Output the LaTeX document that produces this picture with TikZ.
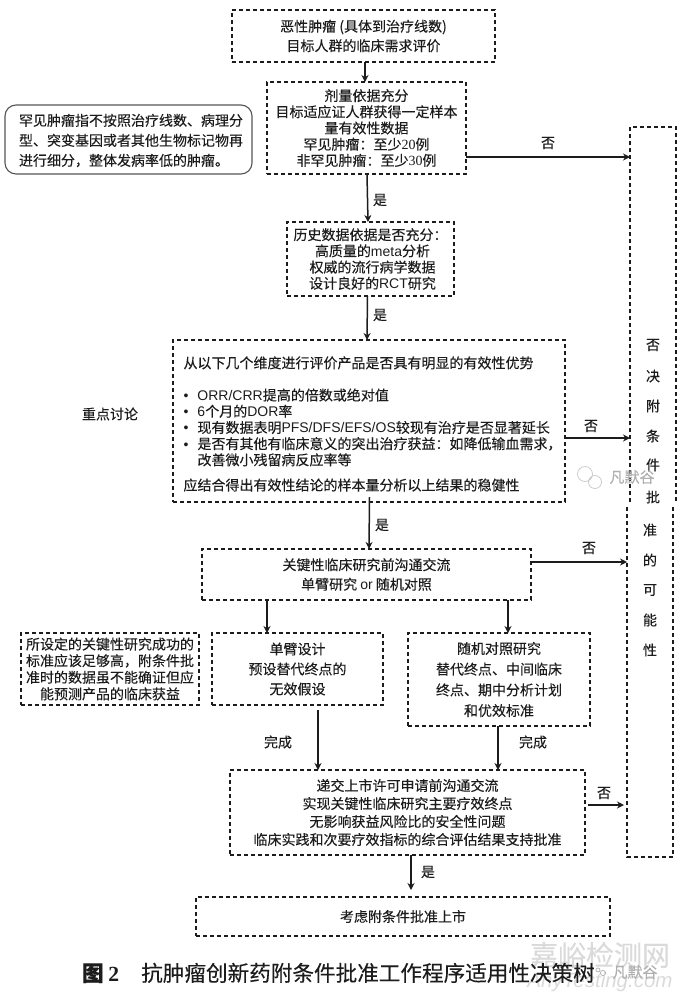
\documentclass[tikz,border=0pt]{standalone}
\usepackage{fontspec}
\usetikzlibrary{arrows.meta}
\setmainfont[FakeBold=0.2]{Noto Sans CJK SC}
\newfontfamily\lat{Liberation Sans}
\newfontfamily\ser{Liberation Serif}
\definecolor{ink}{HTML}{1C1C1C}
\definecolor{wm}{HTML}{DADADA}
\definecolor{wmb}{HTML}{AFAFAF}
\tikzset{
  base/.style={inner sep=0pt,outer sep=0pt,text=ink,font=\fontsize{14}{16.2}\selectfont},
  dbox/.style={base,draw=ink,line width=1.2pt,dash pattern=on 4pt off 3pt,align=center,anchor=north west},
  note/.style={base,draw=ink!75,line width=1.1pt,rounded corners=11pt,align=left,anchor=north west},
  hold/.style={base,anchor=north west},
  side/.style={draw=ink,line width=1.2pt,dash pattern=on 4pt off 3pt},
  arr/.style={draw=ink,line width=1.5pt,-{Stealth[length=7pt,width=7pt]}},
  lab/.style={base,anchor=center},
  vert/.style={base,anchor=center},
}
\begin{document}
\begin{tikzpicture}[x=1pt,y=-1pt]
\useasboundingbox (0,0) rectangle (680,999);
% boxes
\node[dbox,minimum width=263pt,minimum height=52pt,font=\fontsize{14}{19.5}\selectfont] (top) at (232,10)
  {恶性肿瘤 (具体到治疗线数)\\目标人群的临床需求评价};
\node[dbox,minimum width=199pt,minimum height=92pt] (dose) at (267,82)
  {剂量依据充分\\目标适应证人群获得一定样本\\量有效性数据\\罕见肿瘤：至少{\ser 20}例\\非罕见肿瘤：至少{\ser 30}例};
\node[note,minimum width=247pt,minimum height=69pt,font=\fontsize{14}{20}\selectfont] (rare) at (5,105)
  {\hspace{7pt}\raisebox{-1pt}[\height][\depth]{\parbox{226pt}{罕见肿瘤指不按照治疗线数、病理分\\型、突变基因或者其他生物标记物再\\进行细分，整体发病率低的肿瘤。}}};
\node[dbox,minimum width=167pt,minimum height=74pt] (hist) at (287,222)
  {历史数据依据是否充分：\\\hspace{4pt}高质量的{\lat meta}分析\\\hspace{4pt}权威的流行病学数据\\\hspace{4pt}设计良好的{\lat RCT}研究};
\node[dbox,minimum width=392pt,minimum height=162pt,align=left] (eval) at (173,340)
  {\hspace{8pt}\raisebox{-3pt}[\height][\depth]{\parbox{379pt}{从以下几个维度进行评价产品是否具有明显的有效性优势\\[16pt]
  \makebox[14pt][l]{\lat •}{\lat ORR/CRR}提高的倍数或绝对值\\
  \makebox[14pt][l]{\lat •}{\lat 6}个月的{\lat DOR}率\\
  \makebox[14pt][l]{\lat •}现有数据表明{\lat PFS/DFS/EFS/OS}较现有治疗是否显著延长\\
  \makebox[14pt][l]{\lat •}是否有其他有临床意义的突出治疗获益：如降低输血需求，\\
  \makebox[14pt][l]{}改善微小残留病反应率等\\[9pt]
  应结合得出有效性结论的样本量分析以上结果的稳健性}}};
\node[dbox,minimum width=329pt,minimum height=51pt,font=\fontsize{14}{19.5}\selectfont] (pre) at (202,549)
  {关键性临床研究前沟通交流\\单臂研究 {\lat or} 随机对照};
\node[dbox,minimum width=178pt,minimum height=72pt,font=\fontsize{14}{16.6}\selectfont] (crit) at (21,633)
  {所设定的关键性研究成功的\\标准应该足够高，附条件批\\准时的数据虽不能确证但应\\能预测产品的临床获益};
\node[dbox,minimum width=171pt,minimum height=72pt,font=\fontsize{14}{20}\selectfont] (single) at (212,633)
  {单臂设计\\预设替代终点的\\无效假设};
\node[dbox,minimum width=182pt,minimum height=93pt,font=\fontsize{14}{20.7}\selectfont] (rand) at (408,633)
  {随机对照研究\\替代终点、中间临床\\终点、期中分析计划\\和优效标准};
\node[dbox,minimum width=355pt,minimum height=85pt,font=\fontsize{14}{18}\selectfont] (nda) at (230,770)
  {递交上市许可申请前沟通交流\\实现关键性临床研究主要疗效终点\\无影响获益风险比的安全性问题\\临床实践和次要疗效指标的综合评估结果支持批准};
\node[dbox,minimum width=414pt,minimum height=39pt,line width=1.6pt] (final) at (196,897)
  {考虑附条件批准上市};
% right-hand box, in two offset halves
\node[hold,minimum width=46pt,minimum height=375pt] (ra) at (630,127) {};
\node[hold,minimum width=46pt,minimum height=350pt] (rb) at (627,507) {};
\draw[side] (ra.south west) -- (ra.north west) -- (ra.north east) -- (ra.south east);
\draw[side] (rb.north west) -- (rb.south west) -- (rb.south east) -- (rb.north east);
\foreach \n/\t/\px/\py in {v1/否/653/345,v2/决/653/376,v3/附/653/406,v4/条/653/436,v5/件/653/465,v6/批/653/497,v7/准/650/530,v8/的/650/560,v9/可/650/590,v10/能/650/620,v11/性/650/650}
  \node[vert] (\n) at (\px,\py) {\t};
% connectors
\draw[arr] (top.south -| dose.north) ++(-1.5,0) -- +(0,20) coordinate (c1);
\draw[arr] ([xshift=.5pt]dose.south) -- ([xshift=-2.5pt]hist.north);
\draw[arr] ([xshift=-3pt]hist.south) -- ([xshift=-2pt]eval.north);
\draw[arr] ([xshift=.5pt,yshift=5pt]eval.south) -- ([xshift=2.5pt]pre.north);
\draw[arr] (pre.south -| single.north) ++(-30.5,0) -- +(0,33) coordinate (c2);
\draw[arr] (pre.south -| rand.north) ++(9,0) -- +(0,33) coordinate (c3);
\draw[arr] (single.south) ++(20.5,5) -- +(0,60) coordinate (c4);
\draw[arr] (rand.south) ++(-1,0) -- +(0,44) coordinate (c5);
\draw[arr] (nda.south) ++(3.5,0) -- +(0,35) coordinate (c6);
\draw[arr] (dose.east |- 0,157) -- (ra.west |- 0,157);
\draw[arr] (eval.east |- 0,438) -- (ra.west |- 0,438);
\draw[arr] (pre.east |- 0,562) -- (rb.west |- 0,562);
\draw[arr] ([xshift=3pt]nda.east |- 0,805) -- ([xshift=-3pt]rb.west |- 0,805);
% connector labels
\node[lab] (n1) at (548,143) {否};
\node[lab] (y1) at (380,200) {是};
\node[lab] (y2) at (380,315) {是};
\node[lab] (n2) at (591,426) {否};
\node[lab] (y3) at (382,525) {是};
\node[lab] (n3) at (589,548) {否};
\node[lab] (d1) at (278,742) {完成};
\node[lab] (d2) at (533,742) {完成};
\node[lab] (n4) at (604,793) {否};
\node[lab] (y4) at (428,872) {是};
\node[lab] (focus) at (110,414) {重点讨论};
% watermarks
\node[base,text=wm,font=\fontsize{28}{28}\selectfont,anchor=center] (wm1) at (600,955) {嘉峪检测网};
\node[base,text=wm,font=\fontsize{20.5}{20.5}\lat\itshape\selectfont,anchor=center] (wm2) at (600,982) {AnyTesting.com};
% caption
\node[base,font=\fontsize{21.6}{24}\selectfont,anchor=west] (cap) at (82,973)
  {{\bfseries 图} {\ser\bfseries 2}\hspace{22pt}抗肿瘤创新药附条件批准工作程序适用性决策树};
\node[base,text=wmb,font=\fontsize{15}{15}\selectfont,anchor=center] (wm3) at (635,972) {凡默谷};
\node[base,text=wmb,font=\fontsize{15}{15}\selectfont,anchor=center] (wm4) at (632,477) {凡默谷};
\draw[wmb!70,line width=.7pt] (585,474) circle (7.5pt) (595,482) circle (6.5pt);
\draw[wmb,line width=.7pt] (598,970) circle (2pt) (603,973) circle (2.6pt);
\end{tikzpicture}
\end{document}
